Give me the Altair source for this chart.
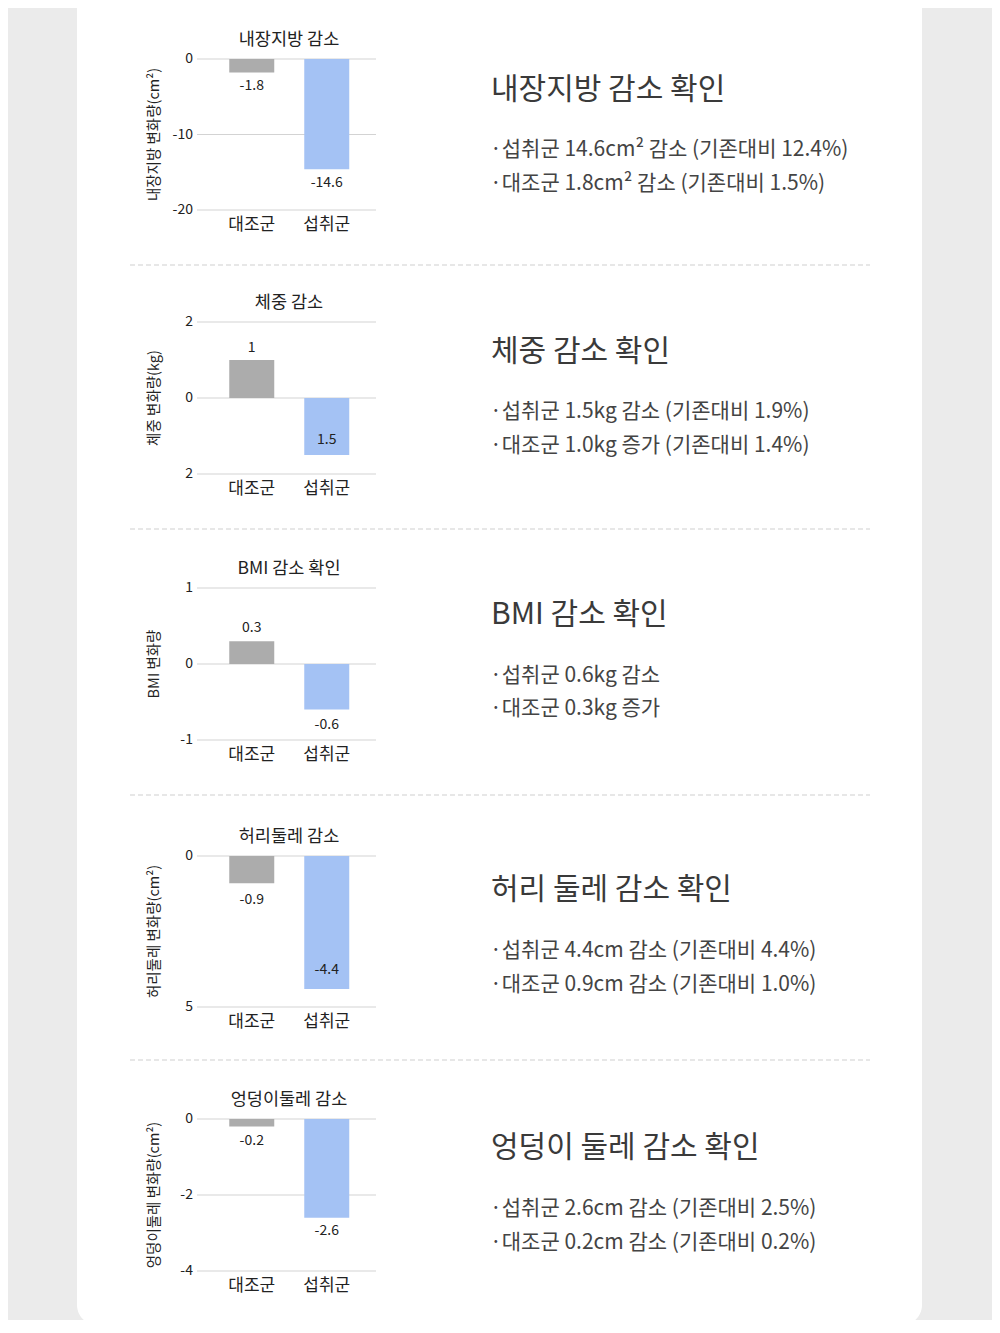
import altair as alt
import pandas as pd

# ---------------- data ----------------
groups = ["대조군", "섭취군"]

chart_titles = ["내장지방 감소", "체중 감소", "BMI 감소 확인", "허리둘레 감소", "엉덩이둘레 감소"]
y_titles = ["내장지방 변화량(cm²)", "체중 변화량(kg)", "BMI 변화량", "허리둘레 변화량(cm²)", "엉덩이둘레 변화량(cm²)"]

values_1 = [-1.8, -14.6]
values_2 = [1.0, -1.5]
values_3 = [0.3, -0.6]
values_4 = [-0.9, -4.4]
values_5 = [-0.2, -2.6]

value_labels_1 = ["-1.8", "-14.6"]
value_labels_2 = ["1", "1.5"]
value_labels_3 = ["0.3", "-0.6"]
value_labels_4 = ["-0.9", "-4.4"]
value_labels_5 = ["-0.2", "-2.6"]

tick_values_1 = [0, -10, -20]
tick_values_2 = [2, 0, -2]
tick_values_3 = [1, 0, -1]
tick_values_4 = [0, -5]
tick_values_5 = [0, -2, -4]

tick_labels_1 = ["0", "-10", "-20"]
tick_labels_2 = ["2", "0", "2"]
tick_labels_3 = ["1", "0", "-1"]
tick_labels_4 = ["0", "5"]
tick_labels_5 = ["0", "-2", "-4"]

headings = ["내장지방 감소 확인", "체중 감소 확인", "BMI 감소 확인", "허리 둘레 감소 확인", "엉덩이 둘레 감소 확인"]
bullets_1 = ["·섭취군 14.6cm² 감소 (기존대비 12.4%)", "·대조군 1.8cm² 감소 (기존대비 1.5%)"]
bullets_2 = ["·섭취군 1.5kg 감소 (기존대비 1.9%)", "·대조군 1.0kg 증가 (기존대비 1.4%)"]
bullets_3 = ["·섭취군 0.6kg 감소", "·대조군 0.3kg 증가"]
bullets_4 = ["·섭취군 4.4cm 감소 (기존대비 4.4%)", "·대조군 0.9cm 감소 (기존대비 1.0%)"]
bullets_5 = ["·섭취군 2.6cm 감소 (기존대비 2.5%)", "·대조군 0.2cm 감소 (기존대비 0.2%)"]

values = [values_1, values_2, values_3, values_4, values_5]
value_labels = [value_labels_1, value_labels_2, value_labels_3, value_labels_4, value_labels_5]
tick_values = [tick_values_1, tick_values_2, tick_values_3, tick_values_4, tick_values_5]
tick_labels = [tick_labels_1, tick_labels_2, tick_labels_3, tick_labels_4, tick_labels_5]
bullets = [bullets_1, bullets_2, bullets_3, bullets_4, bullets_5]

# ---------------- layout (page px minus 8px body margin) ----------------
M = 8
FONT = "Noto Sans CJK KR"
GRAY_BAR = "#acacac"
BLUE_BAR = "#a4c2f4"
plot_tops = [59, 322, 588, 856, 1119]
plot_bottoms = [210, 474, 740, 1007, 1271]
heading_y = [90, 352, 615, 890, 1148]
bullet_y = [[150, 184], [412, 446], [676, 709], [951, 985], [1209, 1243]]
label_dy = [[13, 14], [-12, -15], [-13, 15], [17, -19], [14, 13]]
sep_y = [265, 529, 795, 1060]
grid_x0, grid_x1 = 197, 376
band_x0, band_x1 = 197, 381.5


def one(text):
    return pd.DataFrame({"t": [text]})


def text_layer(text, x, y, size, color, align="left", angle=None, weight="normal"):
    kw = dict(align=align, baseline="middle", fontSize=size, color=color, font=FONT, fontWeight=weight)
    if angle is not None:
        kw["angle"] = angle
    return alt.Chart(one(text)).mark_text(**kw).encode(
        x=alt.value(x - M), y=alt.value(y - M), text="t:N"
    )


layers = []

# card background
layers.append(
    alt.Chart(one("")).mark_rect(fill="white", cornerRadius=20).encode(
        x=alt.value(77 - M), x2=alt.value(922 - M), y=alt.value(-30), y2=alt.value(1325 - M)
    )
)

# dashed separators
for sy in sep_y:
    layers.append(
        alt.Chart(one("")).mark_rule(color="#cfcfcf", strokeDash=[5, 3], strokeWidth=1).encode(
            x=alt.value(130 - M), x2=alt.value(870 - M), y=alt.value(sy - M)
        )
    )

panels = []
for i in range(5):
    top, bottom = plot_tops[i], plot_bottoms[i]
    dom = [min(tick_values[i]), max(tick_values[i])]
    xs = alt.Scale(domain=groups, range=[band_x0 - M, band_x1 - M], paddingInner=0.4, paddingOuter=0.43)
    ys = alt.Scale(domain=dom, range=[bottom - M, top - M], nice=False, zero=False)

    bar_df = pd.DataFrame({"g": groups, "v": values[i], "lab": value_labels[i]})
    tick_df = pd.DataFrame({"v": tick_values[i], "lab": tick_labels[i]})

    grid = alt.Chart(tick_df).mark_rule(color="#d3d3d3", strokeWidth=1).encode(
        y=alt.Y("v:Q", scale=ys, axis=None), x=alt.value(grid_x0 - M), x2=alt.value(grid_x1 - M)
    )
    ticks = alt.Chart(tick_df).mark_text(
        align="right", baseline="middle", fontSize=14, color="#222", font=FONT
    ).encode(y=alt.Y("v:Q", scale=ys, axis=None), x=alt.value(193 - M), text="lab:N")
    bars = alt.Chart(bar_df).mark_bar().encode(
        x=alt.X("g:N", scale=xs, sort=groups, axis=None),
        y=alt.Y("v:Q", scale=ys, axis=None),
        color=alt.Color("g:N", scale=alt.Scale(domain=groups, range=[GRAY_BAR, BLUE_BAR]), legend=None),
    )
    cats = alt.Chart(bar_df).mark_text(
        baseline="middle", fontSize=17, color="#222", font=FONT
    ).encode(
        x=alt.X("g:N", scale=xs, sort=groups, axis=None), y=alt.value(bottom + 15 - M), text="g:N"
    )
    sub = [grid, ticks, bars, cats]
    for j in range(2):
        sub.append(
            alt.Chart(bar_df).transform_filter(alt.datum.g == groups[j]).mark_text(
                baseline="middle", fontSize=14, color="#222", font=FONT, dy=label_dy[i][j]
            ).encode(
                x=alt.X("g:N", scale=xs, sort=groups, axis=None),
                y=alt.Y("v:Q", scale=ys, axis=None),
                text="lab:N",
            )
        )
    sub.append(text_layer(chart_titles[i], 289, top - 19, 17.5, "#222", align="center"))
    sub.append(text_layer(y_titles[i], 155, (top + bottom) / 2, 14.5, "#222", align="center", angle=270))
    panels.append(alt.layer(*sub))

    layers.append(text_layer(headings[i], 491, heading_y[i], 30, "#3a3a3a"))
    for k in range(2):
        layers.append(text_layer(bullets[i][k], 490, bullet_y[i][k], 21, "#444"))

panel_layer = alt.layer(*panels).resolve_scale(x="independent", y="independent", color="independent")
layers.append(panel_layer)

chart = (
    alt.layer(*layers)
    .resolve_scale(x="independent", y="independent", color="independent")
    .properties(width=984, height=1312, padding=0, autosize=alt.AutoSizeParams(type="none"))
    .configure(background="#ebebeb")
    .configure_view(stroke=None)
)

chart.save("out.html", embed_options={"renderer": "svg", "actions": False})
